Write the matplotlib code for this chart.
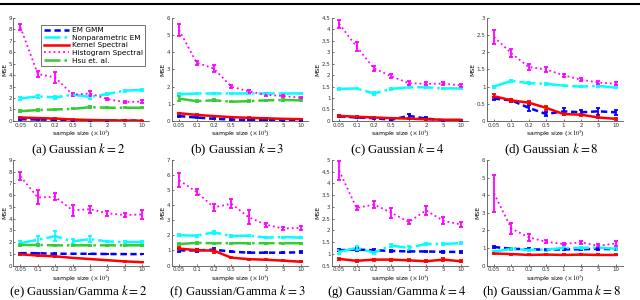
import numpy as np
import matplotlib
matplotlib.use("Agg")
import matplotlib.pyplot as plt
from matplotlib.lines import Line2D

plt.rcParams['font.family'] = ['DejaVu Sans']
plt.rcParams['mathtext.fontset'] = 'stix'

############
#   DATA   #
############

sizes = ['0.05', '0.1', '0.2', '0.5', '1', '2', '5', '10']
methods = ['EM GMM', 'Nonparametric EM', 'Kernel Spectral', 'Histogram Spectral', 'Hsu et. al.']
captions = ['(a) Gaussian $k=2$', '(b) Gaussian $k=3$', '(c) Gaussian $k=4$', '(d) Gaussian $k=8$',
            '(e) Gaussian/Gamma $k=2$', '(f) Gaussian/Gamma $k=3$',
            '(g) Gaussian/Gamma $k=4$', '(h) Gaussian/Gamma $k=8$']

# EM GMM
em_gmm = [
    [0.15, 0.12, 0.10, 0.05, 0.05, 0.03, 0.02, 0.02],
    [0.28, 0.20, 0.12, 0.08, 0.05, 0.04, 0.03, 0.02],
    [0.20, 0.15, 0.12, 0.05, 0.22, 0.10, 0.03, 0.02],
    [0.65, 0.60, 0.38, 0.20, 0.28, 0.25, 0.28, 0.25],
    [1.05, 1.05, 1.00, 1.00, 1.00, 0.98, 0.97, 0.97],
    [1.00, 1.00, 1.05, 0.92, 0.85, 0.85, 0.85, 0.88],
    [1.15, 1.18, 1.15, 1.12, 1.10, 1.10, 1.08, 1.08],
    [1.05, 0.95, 0.92, 0.90, 0.92, 0.92, 0.95, 0.92],
]
em_gmm_err = [
    [0.03, 0.03, 0.02, 0.02, 0.02, 0.01, 0.01, 0.01],
    [0.03, 0.02, 0.02, 0.02, 0.01, 0.01, 0.01, 0.01],
    [0.04, 0.04, 0.04, 0.03, 0.10, 0.05, 0.02, 0.01],
    [0.05, 0.05, 0.08, 0.05, 0.10, 0.08, 0.10, 0.08],
    [0.05, 0.05, 0.03, 0.02, 0.02, 0.02, 0.02, 0.02],
    [0.08, 0.08, 0.08, 0.05, 0.04, 0.03, 0.04, 0.05],
    [0.05, 0.05, 0.04, 0.03, 0.03, 0.03, 0.03, 0.03],
    [0.06, 0.05, 0.05, 0.05, 0.05, 0.05, 0.05, 0.05],
]
# Nonparametric EM
np_em = [
    [1.95, 2.15, 2.05, 2.30, 2.10, 2.35, 2.65, 2.70],
    [1.55, 1.60, 1.60, 1.60, 1.60, 1.60, 1.60, 1.60],
    [1.40, 1.42, 1.20, 1.40, 1.47, 1.47, 1.42, 1.42],
    [1.00, 1.17, 1.10, 1.08, 1.03, 1.00, 1.02, 0.97],
    [1.90, 2.20, 2.50, 2.05, 2.25, 2.05, 2.00, 2.00],
    [2.00, 1.98, 2.20, 1.95, 1.98, 1.85, 1.88, 1.85],
    [1.08, 1.25, 1.05, 1.35, 1.25, 1.42, 1.42, 1.45],
    [0.78, 0.95, 0.88, 0.90, 1.00, 1.00, 1.02, 0.95],
]
np_em_err = [
    [0.15, 0.15, 0.15, 0.10, 0.15, 0.05, 0.08, 0.08],
    [0.05, 0.04, 0.04, 0.03, 0.03, 0.03, 0.03, 0.03],
    [0.04, 0.04, 0.08, 0.05, 0.04, 0.03, 0.03, 0.03],
    [0.03, 0.03, 0.03, 0.03, 0.02, 0.02, 0.02, 0.02],
    [0.20, 0.35, 0.45, 0.25, 0.25, 0.08, 0.08, 0.10],
    [0.06, 0.06, 0.10, 0.05, 0.05, 0.04, 0.04, 0.04],
    [0.08, 0.08, 0.08, 0.06, 0.10, 0.04, 0.04, 0.04],
    [0.05, 0.05, 0.05, 0.05, 0.06, 0.06, 0.06, 0.05],
]
# Kernel Spectral
kernel = [
    [0.30, 0.25, 0.20, 0.12, 0.08, 0.05, 0.03, 0.02],
    [0.45, 0.35, 0.28, 0.22, 0.18, 0.15, 0.12, 0.10],
    [0.22, 0.18, 0.15, 0.12, 0.10, 0.07, 0.05, 0.05],
    [0.72, 0.60, 0.53, 0.38, 0.20, 0.18, 0.10, 0.06],
    [0.95, 0.85, 0.78, 0.65, 0.55, 0.45, 0.35, 0.28],
    [1.12, 1.02, 0.98, 0.52, 0.42, 0.38, 0.32, 0.25],
    [0.78, 0.70, 0.75, 0.75, 0.72, 0.68, 0.75, 0.68],
    [0.68, 0.65, 0.60, 0.62, 0.60, 0.62, 0.60, 0.60],
]
kernel_err = [
    [0.03, 0.03, 0.02, 0.02, 0.01, 0.01, 0.01, 0.01],
    [0.03, 0.03, 0.02, 0.02, 0.02, 0.01, 0.01, 0.01],
    [0.03, 0.02, 0.02, 0.02, 0.01, 0.01, 0.01, 0.01],
    [0.05, 0.05, 0.05, 0.05, 0.04, 0.03, 0.03, 0.02],
    [0.04, 0.03, 0.03, 0.03, 0.02, 0.02, 0.02, 0.02],
    [0.12, 0.08, 0.12, 0.05, 0.04, 0.03, 0.03, 0.03],
    [0.04, 0.04, 0.04, 0.04, 0.04, 0.04, 0.05, 0.05],
    [0.03, 0.03, 0.03, 0.03, 0.03, 0.03, 0.03, 0.03],
]
# Histogram Spectral
hist = [
    [8.20, 4.10, 3.80, 2.30, 2.40, 1.90, 1.65, 1.70],
    [5.30, 3.40, 3.05, 2.00, 1.72, 1.52, 1.45, 1.35],
    [4.25, 3.25, 2.30, 1.95, 1.65, 1.62, 1.63, 1.55],
    [2.45, 1.97, 1.57, 1.50, 1.33, 1.20, 1.12, 1.08],
    [7.60, 5.80, 5.85, 4.70, 4.80, 4.45, 4.30, 4.35],
    [5.65, 4.88, 3.85, 4.10, 3.20, 2.70, 2.45, 2.50],
    [4.55, 2.95, 3.10, 2.75, 2.35, 2.85, 2.40, 2.25],
    [4.10, 2.10, 1.60, 1.35, 1.22, 1.32, 1.12, 1.25],
]
hist_err = [
    [0.25, 0.30, 0.50, 0.15, 0.20, 0.10, 0.10, 0.15],
    [0.35, 0.12, 0.20, 0.10, 0.08, 0.08, 0.06, 0.07],
    [0.18, 0.20, 0.10, 0.08, 0.08, 0.07, 0.08, 0.07],
    [0.20, 0.12, 0.08, 0.08, 0.04, 0.04, 0.04, 0.04],
    [0.35, 0.60, 0.30, 0.45, 0.30, 0.20, 0.20, 0.40],
    [0.45, 0.20, 0.25, 0.30, 0.45, 0.12, 0.12, 0.12],
    [0.40, 0.08, 0.15, 0.22, 0.10, 0.20, 0.15, 0.12],
    [1.05, 0.30, 0.20, 0.08, 0.06, 0.10, 0.08, 0.12],
]
# Hsu et. al. (only k=2, k=3)
hsu = [
    [0.85, 0.95, 1.00, 1.05, 1.20, 1.15, 1.15, 1.15],
    [1.30, 1.15, 1.20, 1.12, 1.15, 1.20, 1.22, 1.20],
    None,
    None,
    [1.75, 1.75, 1.72, 1.72, 1.72, 1.72, 1.72, 1.72],
    [1.42, 1.50, 1.48, 1.48, 1.48, 1.48, 1.48, 1.48],
    None,
    None,
]
hsu_err = [
    [0.08, 0.08, 0.08, 0.05, 0.08, 0.04, 0.04, 0.04],
    [0.15, 0.05, 0.05, 0.04, 0.04, 0.04, 0.04, 0.04],
    None,
    None,
    [0.12, 0.08, 0.05, 0.04, 0.04, 0.04, 0.04, 0.04],
    [0.05, 0.05, 0.04, 0.04, 0.04, 0.04, 0.04, 0.04],
    None,
    None,
]

ylims = [(0, 9), (0, 6), (0, 4.5), (0, 3), (0, 9), (0, 7), (0.5, 5), (0, 6)]
ysteps = [1, 1, 0.5, 0.5, 1, 1, 0.5, 1]

#############
#   STYLE   #
#############

styles = {
    'EM GMM': dict(color='#0000ff', ls=(0, (2.5, 1.5)), lw=1.8),
    'Nonparametric EM': dict(color='#00ffff', ls='-.', lw=1.8),
    'Kernel Spectral': dict(color='#ff0000', ls='-', lw=1.8),
    'Histogram Spectral': dict(color='#ff00ff', ls=':', lw=1.3),
    'Hsu et. al.': dict(color='#33cc33', ls='-.', lw=1.8),
}

lefts = [0.021, 0.269, 0.519, 0.761]
bottoms = [0.597, 0.115]
heights = [0.343, 0.352]
caption_y = [0.5, 0.027]
width = 0.212


def main():
    fig = plt.figure(figsize=(6.4, 3.0), dpi=100)
    x = np.arange(1, len(sizes) + 1)

    for i in range(8):
        r, c = divmod(i, 4)
        ax = fig.add_axes([lefts[c], bottoms[r], width, heights[r]])
        series = [(methods[0], em_gmm[i], em_gmm_err[i]),
                  (methods[1], np_em[i], np_em_err[i]),
                  (methods[2], kernel[i], kernel_err[i]),
                  (methods[3], hist[i], hist_err[i]),
                  (methods[4], hsu[i], hsu_err[i])]
        handles = []
        for name, y, e in series:
            st = styles[name]
            handles.append(Line2D([], [], **st))
            if y is None:
                continue
            ax.errorbar(x, y, yerr=e, color=st['color'], ls=st['ls'], lw=st['lw'],
                        elinewidth=1.3, capsize=1.5, capthick=1.3, zorder=3)

        ax.set_xlim(0.6, 8.4)
        ax.set_ylim(*ylims[i])
        lo, hi = ylims[i]
        ax.set_yticks(np.arange(lo, hi + 1e-9, ysteps[i]))
        ax.yaxis.set_major_formatter(matplotlib.ticker.FormatStrFormatter('%g'))
        ax.set_xticks(x)
        ax.set_xticklabels(sizes)
        ax.tick_params(labelsize=4, length=1.5, width=0.5, pad=1.2, direction='in',
                       colors='#333333')
        for s in ['top', 'right']:
            ax.spines[s].set_visible(False)
        for s in ['left', 'bottom']:
            ax.spines[s].set_linewidth(0.6)
            ax.spines[s].set_color('#555555')
        ax.set_ylabel('MSE', fontsize=4.5, labelpad=1)
        ax.set_xlabel(r'sample size ($\times\,10^3$)', fontsize=4.5, labelpad=0.8)
        ax.set_facecolor('none')

        fig.text(lefts[c] + width / 2 - 0.005, caption_y[r], captions[i], ha='center',
                 va='center', fontsize=9.3, family='Liberation Serif')

        if i == 0:
            leg = ax.legend(handles, methods, loc='upper right', bbox_to_anchor=(1.0, 0.97),
                            fontsize=5.3, frameon=True, fancybox=False, handlelength=3.4,
                            borderpad=0.3, labelspacing=0.2, handletextpad=0.5)
            leg.get_frame().set_edgecolor('#333333')
            leg.get_frame().set_linewidth(0.6)

    # top rule
    fig.add_artist(Line2D([0, 1], [0.988, 0.988], color='black', lw=1.5,
                          transform=fig.transFigure))

    fig.savefig('out.png', dpi=100)


if __name__ == "__main__":
    main()
